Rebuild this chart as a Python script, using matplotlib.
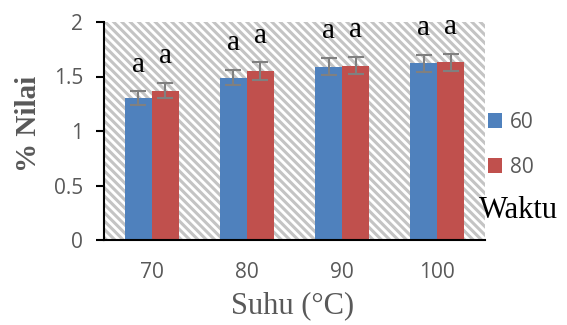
import matplotlib
matplotlib.use("Agg")
import matplotlib.pyplot as plt
import numpy as np
from matplotlib.patches import Rectangle, Patch

suhu = ["70", "80", "90", "100"]
waktu_60 = [1.30, 1.49, 1.59, 1.62]
waktu_80 = [1.37, 1.55, 1.60, 1.63]
err_60 = [0.065, 0.07, 0.08, 0.08]
err_80 = [0.07, 0.08, 0.08, 0.08]
notasi_60 = ["a", "a", "a", "a"]
notasi_80 = ["a", "a", "a", "a"]

blue = "#4F81BD"
red = "#C0504D"
grey_txt = "#595959"

plt.rcParams['hatch.linewidth'] = 2.2

fig = plt.figure(figsize=(5.67, 3.25), dpi=100)
ax = fig.add_axes([104 / 567, 1 - 240 / 325, 381 / 567, 218 / 325])

# striped background like the excel plot area
bg = Rectangle((0, 0), 1, 1, transform=ax.transAxes, facecolor="white",
               edgecolor="#c4c4c4", hatch="\\\\\\\\", linewidth=0, zorder=0)
ax.add_patch(bg)

x = np.arange(len(suhu))
w = 0.283
ax.bar(x - w / 2, waktu_60, w, color=blue, zorder=2, label="60")
ax.bar(x + w / 2, waktu_80, w, color=red, zorder=2, label="80")
ax.errorbar(x - w / 2, waktu_60, yerr=err_60, fmt="none", ecolor="#808080",
            elinewidth=1.5, capsize=5.5, capthick=1.5, zorder=3)
ax.errorbar(x + w / 2, waktu_80, yerr=err_80, fmt="none", ecolor="#808080",
            elinewidth=1.5, capsize=5.5, capthick=1.5, zorder=3)

for i in range(len(suhu)):
    ax.text(x[i] - w / 2, waktu_60[i] + err_60[i] + 0.18, notasi_60[i],
            ha="center", va="baseline", fontsize=21, family="Liberation Serif",
            color="black", clip_on=False)
    ax.text(x[i] + w / 2, waktu_80[i] + err_80[i] + 0.18, notasi_80[i],
            ha="center", va="baseline", fontsize=21, family="Liberation Serif",
            color="black", clip_on=False)

ax.set_xlim(-0.5, len(suhu) - 0.5)
ax.set_ylim(0, 2)
ax.set_yticks([0, 0.5, 1, 1.5, 2])
ax.set_yticklabels(["0", "0.5", "1", "1.5", "2"])
ax.set_xticks(x)
ax.set_xticklabels(suhu)
for s in ["top", "right"]:
    ax.spines[s].set_visible(False)
for s in ["left", "bottom"]:
    ax.spines[s].set_linewidth(1.5)
    ax.spines[s].set_color("black")
    ax.spines[s].set_zorder(4)
ax.tick_params(axis="y", length=6, width=1.5, pad=9, labelsize=15,
               labelcolor=grey_txt, color="black")
ax.tick_params(axis="x", length=0, pad=16, labelsize=15, labelcolor=grey_txt)
for lab in ax.get_xticklabels() + ax.get_yticklabels():
    lab.set_family("Open Sans")

fig.text(28 / 567, 1 - 124 / 325, "% Nilai", rotation=90, ha="center", va="center",
         fontsize=21, fontweight="bold", family="Liberation Serif", color=grey_txt)
fig.text(293 / 567, 1 - 306 / 325, "Suhu (°C)", ha="center", va="center",
         fontsize=22, family="Liberation Serif", color=grey_txt)
fig.text(518 / 567, 1 - 210 / 325, "Waktu", ha="center", va="center",
         fontsize=22, family="Liberation Serif", color="black")

handles = [Patch(facecolor=blue, label="60"), Patch(facecolor=red, label="80")]
leg = fig.legend(handles=handles, loc="upper left", bbox_to_anchor=(469 / 567, 1 - 93 / 325),
                 frameon=False, handlelength=0.7, handleheight=0.7, handletextpad=0.35,
                 labelspacing=1.15, prop={"family": "Open Sans", "size": 15})
for t in leg.get_texts():
    t.set_color(grey_txt)

fig.savefig("out.png", dpi=100)
